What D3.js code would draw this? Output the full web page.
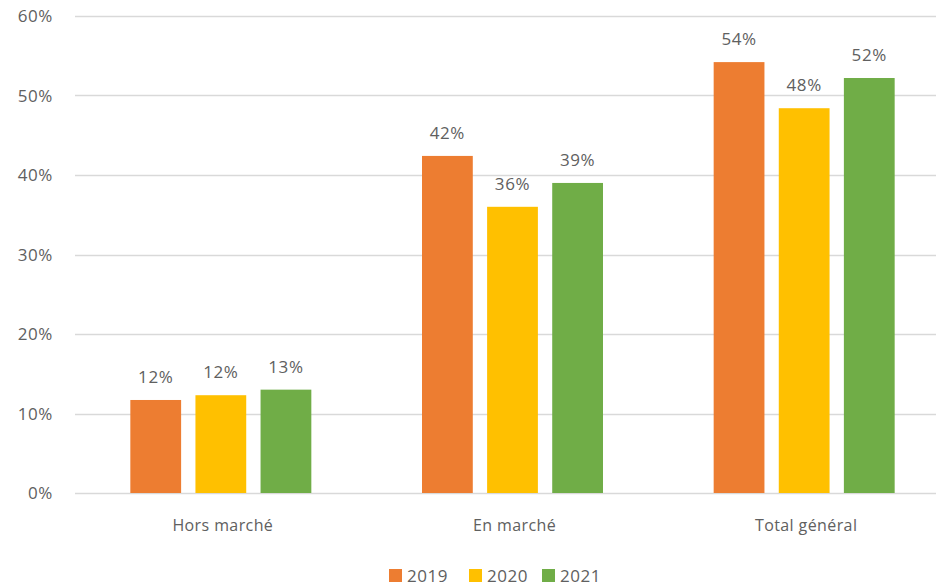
<!DOCTYPE html>
<html>
<head>
<meta charset="utf-8">
<script src="https://cdn.jsdelivr.net/npm/d3@7"></script>
<style>
  body { margin: 0; background: #fff; }
  svg text { font-family: "Open Sans", "Noto Sans", sans-serif; fill: #606060; }
</style>
</head>
<body>
<div id="chart"></div>
<script>
var categories = ["Hors marché", "En marché", "Total général"]
var years = ["2019", "2020", "2021"]
var v2019 = [0.117, 0.424, 0.542]
var v2020 = [0.123, 0.360, 0.484]
var v2021 = [0.130, 0.390, 0.522]
var yTicks = [0, 0.1, 0.2, 0.3, 0.4, 0.5, 0.6]
var colors = ["#ED7D31", "#FFC000", "#70AD47"]

var w = 936, h = 587
var series = [v2019, v2020, v2021]

var svg = d3.select("#chart").append("svg")
  .attr("width", w)
  .attr("height", h)

// plot area goes a bit past the right edge, like the original crop
var x = d3.scaleBand()
  .domain(categories)
  .range([75, 950])

var y = d3.scaleLinear()
  .domain([0, 0.6])
  .range([493, 16])

var x1 = d3.scaleBand()
  .domain(years)
  .range([0, 181])
  .paddingInner(0.22)

var pct = d3.format(".0%")

// gridlines
svg.append("g")
  .selectAll("line")
  .data(yTicks)
  .enter().append("line")
  .attr("x1", 75)
  .attr("x2", w)
  .attr("y1", function(d) { return Math.round(y(d)) + 0.5 })
  .attr("y2", function(d) { return Math.round(y(d)) + 0.5 })
  .attr("stroke", "#d9d9d9")
  .attr("stroke-width", 1.5)

// y labels
svg.append("g")
  .selectAll("text")
  .data(yTicks)
  .enter().append("text")
  .attr("x", 53)
  .attr("y", function(d) { return y(d) + 6 })
  .attr("text-anchor", "end")
  .style("font-size", "17px")
  .style("letter-spacing", "0.6px")
  .text(function(d) { return pct(d) })

// bars
var groups = svg.append("g")
  .selectAll("g")
  .data(categories)
  .enter().append("g")
  .attr("transform", function(c) { return "translate(" + (x(c) + x.bandwidth() / 2 - 90.5) + ",0)" })

groups.selectAll("rect")
  .data(function(c, i) { return series.map(function(s, j) { return {year: years[j], v: s[i], k: j} }) })
  .enter().append("rect")
  .attr("x", function(d) { return x1(d.year) })
  .attr("width", x1.bandwidth())
  .attr("y", function(d) { return y(d.v) })
  .attr("height", function(d) { return y(0) - y(d.v) })
  .attr("fill", function(d) { return colors[d.k] })

groups.selectAll("text")
  .data(function(c, i) { return series.map(function(s, j) { return {year: years[j], v: s[i], k: j} }) })
  .enter().append("text")
  .attr("x", function(d) { return x1(d.year) + x1.bandwidth() / 2 })
  .attr("y", function(d) { return y(d.v) - 17 })
  .attr("text-anchor", "middle")
  .style("font-size", "17px")
  .style("letter-spacing", "0.6px")
  .text(function(d) { return pct(d.v) })

// category labels
svg.append("g")
  .selectAll("text")
  .data(categories)
  .enter().append("text")
  .attr("x", function(c) { return x(c) + x.bandwidth() / 2 + 2 })
  .attr("y", 531)
  .attr("text-anchor", "middle")
  .style("font-size", "16px")
  .style("letter-spacing", "0.4px")
  .text(function(c) { return c })

// legend
var legend = svg.append("g")
  .selectAll("g")
  .data(years)
  .enter().append("g")
  .attr("transform", function(d, i) { return "translate(" + [389, 469, 542][i] + ",569)" })

legend.append("rect")
  .attr("width", 13)
  .attr("height", 13)
  .attr("fill", function(d, i) { return colors[i] })

legend.append("text")
  .attr("x", 18)
  .attr("y", 13)
  .style("font-size", "17px")
  .style("letter-spacing", "0.5px")
  .text(function(d) { return d })
</script>
</body>
</html>
